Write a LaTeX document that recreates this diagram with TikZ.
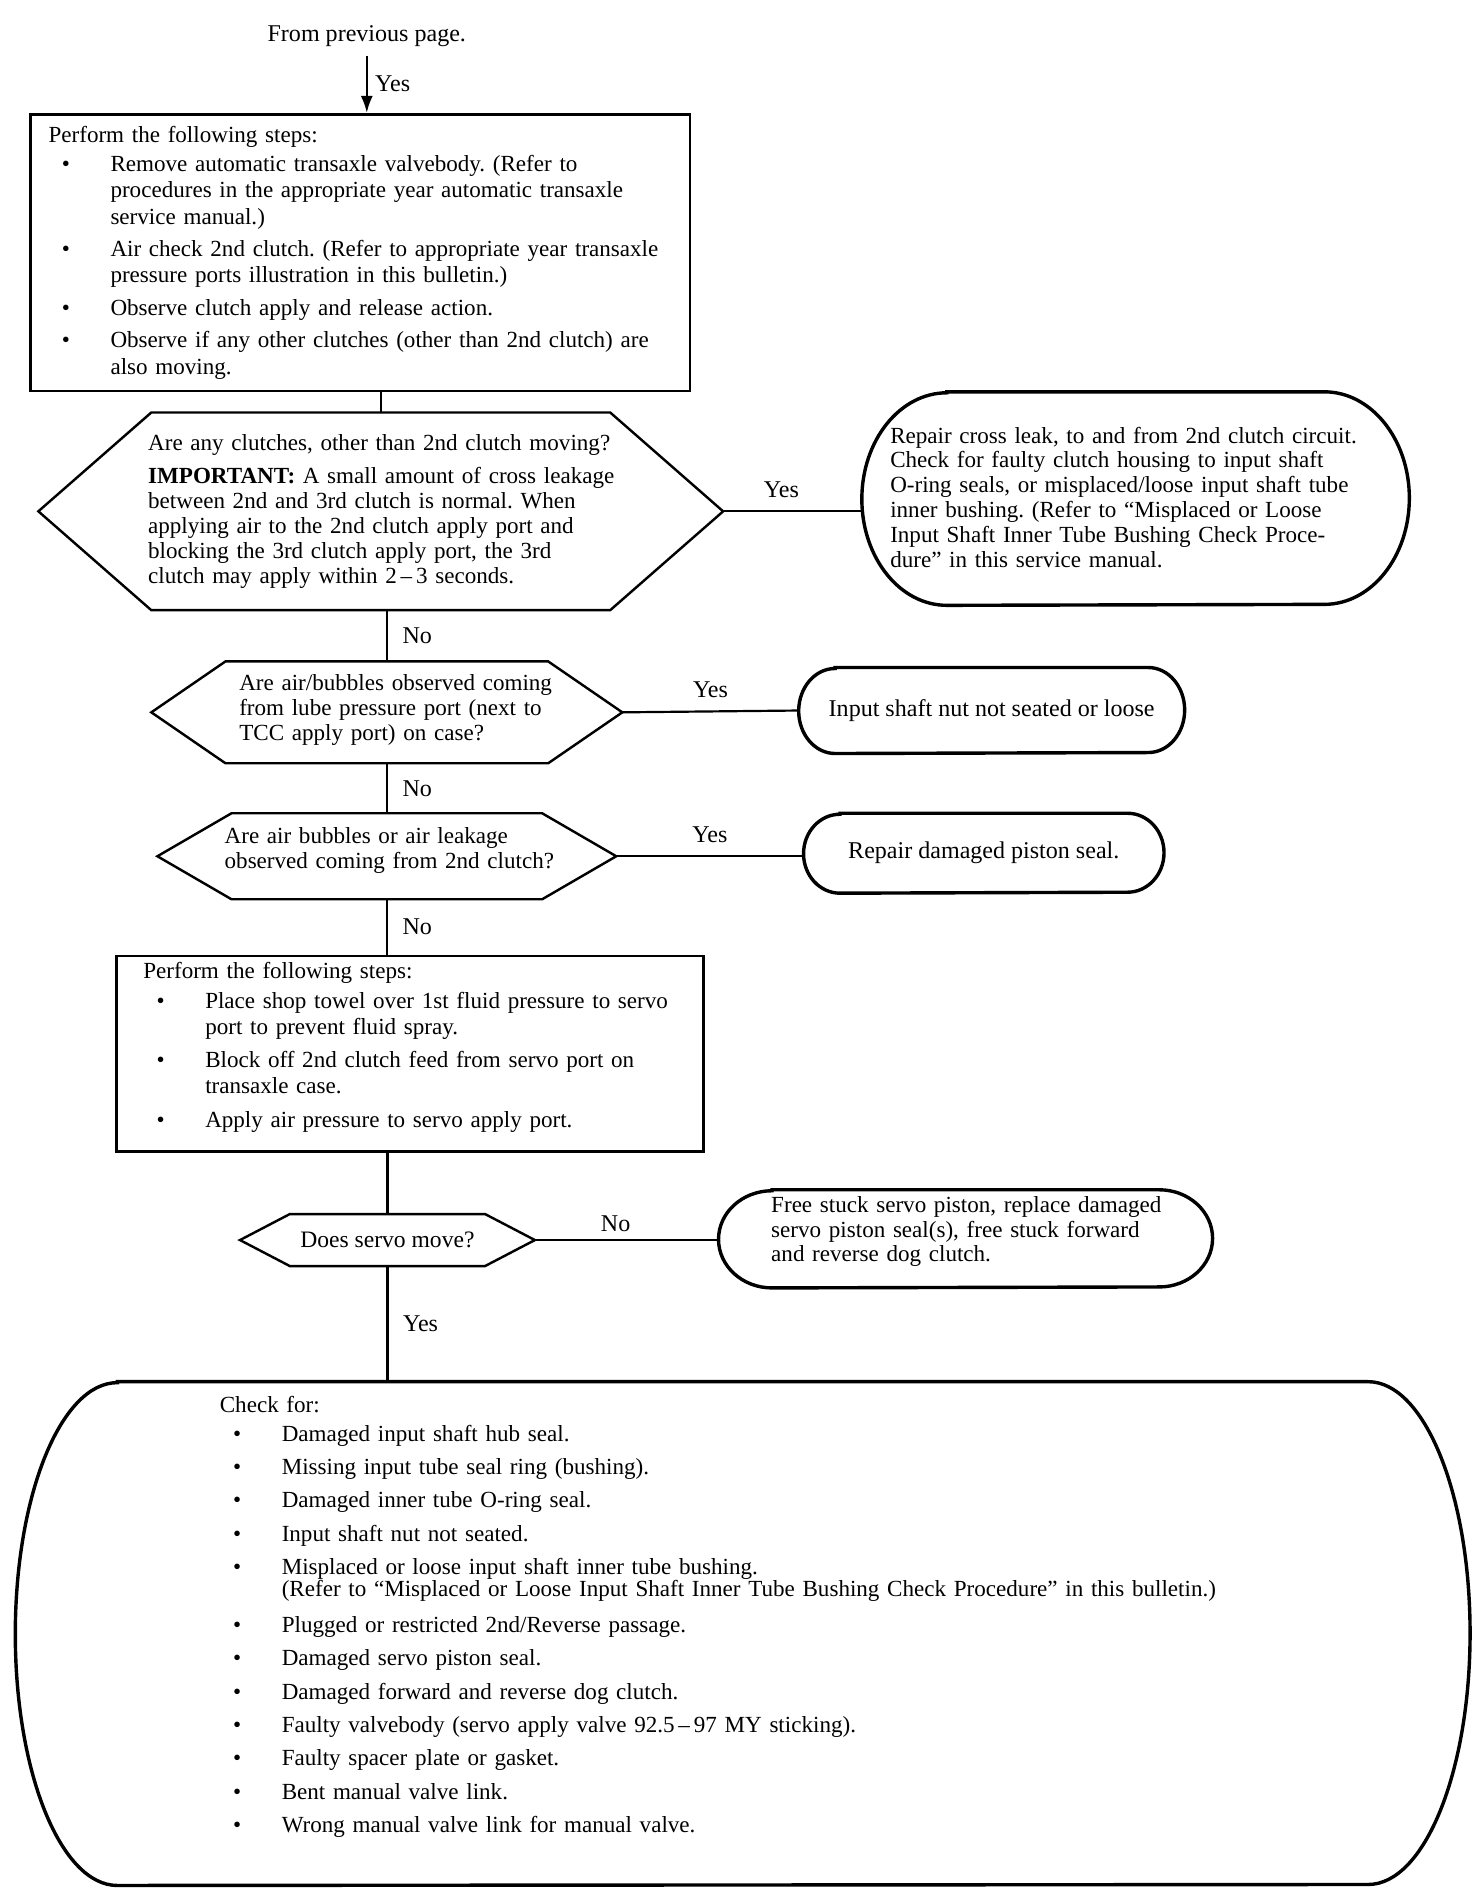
\documentclass[tikz,border=0pt]{standalone}
\usepackage{fontspec}
\setmainfont{Liberation Serif}
\usetikzlibrary{arrows.meta}
\frenchspacing

\newcommand\bul{\makebox[25.5pt][l]{\hspace{5.5pt}\textbullet}}
\newcommand\ind{\hspace*{25.5pt}}
% pill outline inside a node: name, x radius, half height
\newcommand\drawpill[3]{%
  \draw[line width=1.4pt] ([xshift=#2]#1.north west) -- ([xshift=-#2]#1.north east)
    arc[start angle=90,end angle=-90,x radius=#2,y radius=#3]
    -- ([xshift=#2]#1.south west)
    arc[start angle=270,end angle=90,x radius=#2,y radius=#3] -- cycle;}
% hexagon outline inside a node: name, tip length
\newcommand\drawhex[2]{%
  \draw[line width=1pt] ([xshift=#2]#1.north west) -- ([xshift=-#2]#1.north east)
    -- (#1.east) -- ([xshift=-#2]#1.south east) -- ([xshift=#2]#1.south west)
    -- (#1.west) -- cycle;}

\begin{document}
\begin{tikzpicture}[x=0.5pt,y=-0.5pt,
    every node/.style={font=\fontsize{9.9}{10.25}\selectfont},
    flow/.style={line width=0.9pt},
    stepsbox/.style={draw,line width=1.1pt,align=left,inner ysep=0pt,
      font=\fontsize{9.5}{10.8}\selectfont},
    question/.style={align=left,inner ysep=0pt,font=\fontsize{9.5}{10.25}\selectfont},
    fixbox/.style={align=left,inner ysep=0pt,font=\fontsize{9.5}{10.25}\selectfont},
    answer/.style={inner sep=1pt}]
  \useasboundingbox (0,0) rectangle (1212,1554.5);

  \node (prev) at (302,30) {From previous page.};
  \node[stepsbox,text width=265.5pt,inner xsep=3pt,minimum height=114pt] (steps1) at (296.5,208)
    {\leftskip=4.5pt Perform the following steps:\\[1.2pt]
     \bul Remove automatic transaxle valvebody. (Refer to\\
     \ind procedures in the appropriate year automatic transaxle\\
     \ind service manual.)\\[2.4pt]
     \bul Air check 2nd clutch. (Refer to appropriate year transaxle\\
     \ind pressure ports illustration in this bulletin.)\\[2.8pt]
     \bul Observe clutch apply and release action.\\[2.6pt]
     \bul Observe if any other clutches (other than 2nd clutch) are\\
     \ind also moving.\par};

  % questions
  \node[question,text width=261.5pt,inner xsep=10pt,minimum height=81pt] (clutchq) at (313.5,421)
    {\leftskip=35pt Are any clutches, other than 2nd clutch moving?\\[3.7pt]
     \textbf{IMPORTANT:} A small amount of cross leakage\\
     between 2nd and 3rd clutch is normal. When\\
     applying air to the 2nd clutch apply port and\\
     blocking the 3rd clutch apply port, the 3rd\\
     clutch may apply within 2\,--\,3 seconds.\par};
  \drawhex{clutchq}{46.5pt}
  \node[question,text width=181.5pt,inner xsep=6pt,minimum height=41.5pt] (lubeq) at (318.5,586.5)
    {\leftskip=30pt Are air/bubbles observed coming\\
     from lube pressure port (next to\\
     TCC apply port) on case?\par\kern2pt};
  \drawhex{lubeq}{30.5pt}
  \node[question,text width=176.5pt,inner xsep=6pt,minimum height=35pt] (leakq) at (318.5,705)
    {\leftskip=21.5pt Are air bubbles or air leakage\\
     observed coming from 2nd clutch?\par\kern5pt};
  \drawhex{leakq}{30.5pt}

  \node[stepsbox,text width=235.5pt,inner xsep=3pt,minimum height=80.5pt] (steps2) at (337.5,867.5)
    {\leftskip=8pt Perform the following steps:\\[1.2pt]
     \bul Place shop towel over 1st fluid pressure to servo\\
     \ind port to prevent fluid spray.\\[2.7pt]
     \bul Block off 2nd clutch feed from servo port on\\
     \ind transaxle case.\\[3.2pt]
     \bul Apply air pressure to servo apply port.\par\kern5pt};

  \node[question,minimum width=121pt,minimum height=21pt,inner sep=0pt,
    font=\fontsize{9.7}{10.25}\selectfont] (servoq) at (319,1021)
    {Does servo move?};
  \drawhex{servoq}{20.5pt}

  % repairs
  \node[fixbox,text width=219pt,inner xsep=3pt,minimum height=87.5pt] (crossfix) at (935,410.5)
    {\leftskip=8.5pt Repair cross leak, to and from 2nd clutch circuit.\\
     Check for faulty clutch housing to input shaft\\
     O-ring seals, or misplaced/loose input shaft tube\\
     inner bushing. (Refer to ``Misplaced or Loose\\
     Input Shaft Inner Tube Bushing Check Proce-\\
     dure'' in this service manual.\par\kern1pt};
  \drawpill{crossfix}{35pt}{43.75pt}
  \node[minimum width=158.5pt,minimum height=35pt,inner sep=0pt] (nutfix) at (816.5,585)
    {Input shaft nut not seated or loose};
  \drawpill{nutfix}{15pt}{17.5pt}
  \node[minimum width=148pt,minimum height=32.5pt,inner sep=0pt] (pistonfix) at (810,702.5)
    {Repair damaged piston seal.};
  \drawpill{pistonfix}{15pt}{16.25pt}
  \node[fixbox,text width=197pt,inner xsep=3pt,minimum height=40pt] (servofix) at (795,1020)
    {\leftskip=18.5pt Free stuck servo piston, replace damaged\\
     servo piston seal(s), free stuck forward\\
     and reverse dog clutch.\par\kern6pt};
  \drawpill{servofix}{22pt}{20pt}

  \node[fixbox,text width=578.5pt,inner xsep=10pt,minimum height=207pt,
    font=\fontsize{9.5}{10.8}\selectfont] (checkfor) at (611.5,1345)
    {\leftskip=74pt Check for:\\[1.2pt]
     \bul Damaged input shaft hub seal.\\[2.9pt]
     \bul Missing input tube seal ring (bushing).\\[2.9pt]
     \bul Damaged inner tube O-ring seal.\\[2.9pt]
     \bul Input shaft nut not seated.\\[2.9pt]
     \bul Misplaced or loose input shaft inner tube bushing.\\[-1.8pt]
     \ind (Refer to ``Misplaced or Loose Input Shaft Inner Tube Bushing Check Procedure'' in this bulletin.)\\[4.2pt]
     \bul Plugged or restricted 2nd/Reverse passage.\\[2.9pt]
     \bul Damaged servo piston seal.\\[2.9pt]
     \bul Damaged forward and reverse dog clutch.\\[2.9pt]
     \bul Faulty valvebody (servo apply valve 92.5\,--\,97 MY sticking).\\[2.9pt]
     \bul Faulty spacer plate or gasket.\\[2.9pt]
     \bul Bent manual valve link.\\[2.9pt]
     \bul Wrong manual valve link for manual valve.\par\kern14pt};
  \drawpill{checkfor}{42pt}{103.5pt}

  % connectors
  \draw[flow,-{Latex[length=7pt,width=5pt]}] (prev) -- node[answer,right=2pt] {Yes} (prev |- steps1.north);
  \draw[flow] (steps1.south -| clutchq.north) -- (clutchq.north);
  \draw[flow] (clutchq.east) -- node[answer,above=4pt,pos=0.42] {Yes} (clutchq.east -| crossfix.west);
  \draw[flow] (clutchq.south -| lubeq.north) -- node[answer,right=5pt] {No} (lubeq.north);
  \draw[flow] (lubeq.east) -- node[answer,above=4pt] {Yes} (nutfix.west);
  \draw[flow] (lubeq.south -| leakq.north) -- node[answer,right=5pt] {No} (leakq.north);
  \draw[flow] (leakq.east) -- node[answer,above=4pt] {Yes} (leakq.east -| pistonfix.west);
  \draw[flow] (leakq.south) -- node[answer,right=5pt] {No} (leakq.south |- steps2.north);
  \draw[flow] (steps2.south -| servoq.north) -- (servoq.north);
  \draw[flow] (servoq.east) -- node[answer,above=2pt,pos=0.44] {No} (servoq.east -| servofix.west);
  \draw[flow] (servoq.south) -- node[answer,right=5pt] {Yes} (servoq.south |- checkfor.north);
\end{tikzpicture}
\end{document}
